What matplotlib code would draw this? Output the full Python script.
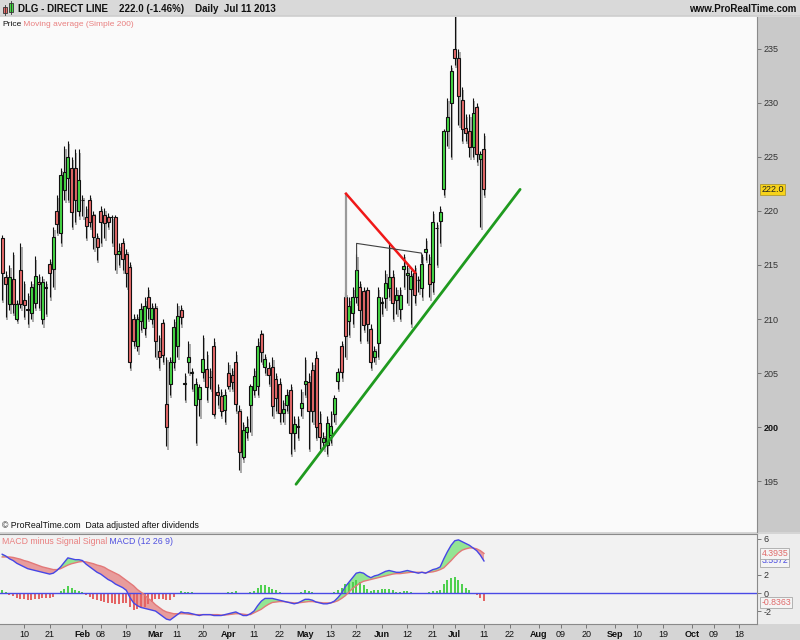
import numpy as np
import pandas as pd
import matplotlib
matplotlib.use('Agg')
import matplotlib.pyplot as plt
from matplotlib.patches import Rectangle
import matplotlib.transforms as mtrans

plt.rcParams['font.family'] = ['Liberation Sans', 'DejaVu Sans']

# ---------------- data ----------------
start_date = '2013-01-02'
end_date = '2013-10-31'
uk_holidays = ['2013-03-29', '2013-04-01', '2013-05-06', '2013-05-27', '2013-08-26']

opens = [217.5, 213.9, 211.4, 213.7, 210.0, 214.5, 211.8, 210.9, 210.6, 211.5,
         213.4, 210.0, 212.9, 215.1, 214.6, 220.0, 218.0, 221.9, 223.1, 224.0,
         224.0, 220.0, 221.0, 219.4, 221.0, 219.6, 217.5, 220.0, 219.6, 219.4,
         219.4, 219.4, 216.0, 217.0, 216.0, 214.8, 210.0, 207.5, 209.8, 209.2,
         212.0, 210.0, 211.0, 207.0, 209.6, 202.1, 204.0, 206.0, 207.5, 210.8,
         204.0, 206.0, 205.0, 202.0, 202.6, 205.1, 205.4, 204.6, 207.5, 203.2,
         202.9, 201.6, 205.0, 204.8, 206.0, 201.5, 197.2, 199.5, 202.0, 203.4,
         203.8, 208.6, 205.6, 205.5, 205.6, 204.4, 204.0, 201.3, 202.0, 203.4,
         199.4, 200.0, 201.8, 204.0, 204.2, 205.3, 206.4, 200.4, 198.6, 198.3,
         199.3, 201.2, 204.3, 207.5, 212.0, 209.8, 210.6, 212.0, 213.0, 212.6,
         212.7, 209.1, 206.5, 207.8, 211.5, 211.9, 212.9, 213.9, 211.8, 210.9,
         214.6, 214.1, 212.8, 214.3, 213.6, 212.9, 216.2, 215.1, 213.4, 218.4,
         219.1, 222.0, 227.4, 230.0, 235.0, 234.2, 230.3, 227.7, 227.4, 225.9,
         229.6, 224.8, 225.7]
highs = [217.8, 214.4, 215.0, 216.2, 211.8, 217.0, 213.5, 212.4, 213.5, 215.8,
         214.2, 214.0, 213.5, 215.6, 218.5, 221.5, 224.0, 226.0, 226.5, 225.0,
         225.7, 225.7, 221.5, 220.5, 221.5, 220.0, 218.0, 220.5, 220.3, 219.8,
         219.6, 219.6, 217.0, 217.5, 216.5, 215.3, 210.5, 210.5, 211.5, 212.0,
         213.0, 211.5, 211.5, 208.5, 210.0, 206.5, 206.5, 210.0, 211.5, 211.3,
         205.0, 208.0, 205.5, 204.5, 204.0, 208.5, 207.0, 205.5, 208.2, 204.0,
         203.5, 203.5, 206.0, 205.5, 207.0, 202.0, 200.5, 201.0, 204.0, 205.5,
         208.2, 209.0, 206.8, 206.0, 206.5, 205.0, 204.5, 202.5, 203.5, 204.0,
         201.0, 201.0, 203.5, 206.5, 205.0, 206.0, 207.0, 201.5, 199.5, 201.0,
         201.5, 203.0, 205.5, 208.0, 212.5, 212.0, 213.0, 216.0, 213.5, 213.0,
         213.0, 209.5, 207.5, 213.0, 212.0, 214.5, 217.0, 214.5, 213.0, 213.0,
         216.0, 215.0, 214.5, 215.0, 214.0, 216.0, 217.5, 216.0, 220.0, 219.0,
         220.5, 227.6, 230.5, 233.5, 238.5, 235.0, 231.5, 229.0, 229.0, 230.5,
         230.0, 225.6, 227.2]
lows = [211.8, 210.2, 210.8, 210.6, 209.8, 211.0, 210.2, 209.5, 210.0, 211.0,
        211.0, 209.5, 210.5, 212.0, 213.0, 218.0, 217.0, 221.0, 221.0, 218.5,
        219.0, 219.5, 219.5, 217.5, 218.5, 216.5, 215.5, 217.0, 217.5, 218.5,
        217.0, 214.5, 215.0, 214.5, 213.0, 205.5, 207.5, 207.0, 209.0, 208.5,
        210.0, 209.5, 206.5, 205.5, 206.0, 198.2, 203.0, 205.5, 206.5, 209.5,
        202.5, 205.0, 203.5, 198.5, 201.0, 204.5, 202.5, 203.5, 201.0, 202.0,
        201.0, 200.5, 203.5, 203.5, 201.5, 196.0, 197.0, 199.0, 199.5, 203.0,
        203.0, 206.0, 205.0, 204.0, 201.0, 201.5, 200.5, 200.5, 201.5, 197.5,
        198.0, 199.0, 201.0, 203.0, 198.0, 200.5, 199.0, 198.0, 198.0, 197.5,
        198.5, 200.5, 203.5, 204.5, 206.5, 208.5, 209.5, 211.5, 208.0, 209.0,
        208.0, 205.5, 206.0, 206.5, 210.5, 211.0, 212.0, 210.0, 210.5, 210.0,
        213.0, 211.5, 209.5, 211.5, 212.5, 212.0, 215.5, 212.0, 212.5, 215.0,
        217.0, 221.5, 226.0, 225.0, 233.5, 228.0, 226.5, 226.5, 225.0, 225.0,
        224.5, 218.5, 221.5]
closes = [214.3, 213.2, 213.9, 211.4, 211.4, 211.4, 211.3, 210.8, 213.0, 214.0,
          213.2, 213.4, 212.9, 214.3, 217.6, 218.8, 223.3, 223.6, 225.0, 219.9,
          221.0, 222.9, 221.0, 218.6, 219.0, 217.6, 216.7, 219.0, 218.9, 219.0,
          219.4, 216.0, 216.3, 215.6, 214.3, 206.0, 208.0, 210.0, 210.9, 211.2,
          211.0, 211.0, 208.0, 206.5, 206.7, 200.0, 206.0, 209.3, 210.3, 210.2,
          204.0, 206.5, 205.0, 204.0, 203.7, 206.3, 203.7, 204.6, 201.2, 203.0,
          201.5, 203.0, 203.8, 204.2, 202.1, 197.7, 199.7, 200.0, 203.8, 204.7,
          207.5, 206.9, 206.3, 204.8, 201.9, 202.7, 201.3, 201.7, 203.0, 199.4,
          200.3, 200.0, 202.2, 204.3, 201.5, 201.5, 200.0, 199.1, 199.0, 200.4,
          200.1, 202.7, 205.1, 205.1, 208.4, 211.2, 212.0, 214.5, 210.8, 209.4,
          209.5, 206.0, 207.0, 212.0, 211.5, 213.3, 213.9, 211.5, 212.2, 212.2,
          214.9, 214.3, 214.0, 212.2, 213.6, 215.1, 216.5, 213.2, 219.0, 218.4,
          219.9, 227.4, 228.7, 233.0, 234.2, 230.6, 227.6, 227.2, 225.9, 229.1,
          225.3, 225.3, 222.0]

macd_line = [4.3, 4.1, 3.8, 3.6, 3.3, 3.1, 2.9, 2.7, 2.6, 2.5,
             2.4, 2.3, 2.2, 2.1, 2.2, 2.5, 2.9, 3.4, 3.9, 3.8,
             3.7, 3.7, 3.6, 3.2, 2.9, 2.6, 2.3, 2.1, 1.8, 1.5,
             1.3, 1.0, 0.8, 0.6, 0.3, -0.5, -1.1, -1.4, -1.6, -1.7,
             -1.8, -1.9, -2.0, -2.3, -2.6, -2.9, -3.0, -2.7, -2.4, -2.1,
             -2.2, -2.2, -2.3, -2.4, -2.5, -2.4, -2.4, -2.4, -2.5, -2.5,
             -2.5, -2.4, -2.3, -2.2, -2.1, -2.3, -2.5, -2.5, -2.3, -2.0,
             -1.4, -0.9, -0.6, -0.6, -0.6, -0.7, -0.8, -0.9, -1.0, -1.1,
             -1.2, -1.1, -0.9, -0.7, -0.7, -0.8, -1.0, -1.1, -1.2, -1.2,
             -1.1, -0.9, -0.5, 0.0, 0.7, 1.2, 1.7, 2.2, 2.3, 2.2,
             1.9, 1.7, 1.9, 2.0, 2.2, 2.4, 2.5, 2.4, 2.3, 2.3,
             2.4, 2.5, 2.4, 2.3, 2.2, 2.3, 2.2, 2.4, 2.6, 2.7,
             2.9, 3.8, 4.6, 5.3, 5.8, 5.9, 5.7, 5.5, 5.3, 5.0,
             4.7, 4.2, 3.5572]
signal_line = [4.0, 4.0, 4.0, 3.95, 3.85, 3.75, 3.6, 3.5, 3.35, 3.2,
               3.05, 2.9, 2.8, 2.7, 2.6, 2.6, 2.7, 2.9, 3.1, 3.25,
               3.35, 3.45, 3.5, 3.45, 3.35, 3.25, 3.1, 3.0, 2.85, 2.6,
               2.4, 2.2, 2.0, 1.7, 1.4, 1.1, 0.8, 0.4, 0.1, -0.2,
               -0.6, -0.9, -1.3, -1.6, -1.9, -2.1, -2.2, -2.3, -2.3, -2.3,
               -2.3, -2.35, -2.4, -2.4, -2.4, -2.4, -2.4, -2.4, -2.4, -2.4,
               -2.45, -2.45, -2.4, -2.35, -2.3, -2.3, -2.35, -2.4, -2.4, -2.2,
               -2.0, -1.8, -1.5, -1.25, -1.05, -1.0, -0.95, -0.95, -1.0, -1.05,
               -1.1, -1.1, -1.05, -1.0, -0.95, -0.95, -1.0, -1.05, -1.1, -1.1,
               -1.1, -1.0, -0.85, -0.6, -0.3, 0.1, 0.5, 0.8, 1.1, 1.3,
               1.4, 1.5, 1.6, 1.7, 1.8, 1.9, 2.0, 2.1, 2.15, 2.15,
               2.2, 2.25, 2.3, 2.3, 2.3, 2.3, 2.25, 2.3, 2.35, 2.45,
               2.6, 2.8, 3.2, 3.6, 4.05, 4.45, 4.75, 4.9, 5.0, 5.0,
               4.9, 4.7, 4.3935]

tick_dates = ['2013-01-10', '2013-01-21', '2013-02-01', '2013-02-08', '2013-02-19',
              '2013-03-01', '2013-03-11', '2013-03-20', '2013-04-02', '2013-04-11',
              '2013-04-22', '2013-05-01', '2013-05-13', '2013-05-22', '2013-06-03',
              '2013-06-12', '2013-06-21', '2013-07-01', '2013-07-11', '2013-07-22',
              '2013-08-01', '2013-08-09', '2013-08-20', '2013-09-02', '2013-09-10',
              '2013-09-19', '2013-10-01', '2013-10-09', '2013-10-18']
tick_labels = ['10', '21', 'Feb', '08', '19', 'Mar', '11', '20', 'Apr', '11',
               '22', 'May', '13', '22', 'Jun', '12', '21', 'Jul', '11', '22',
               'Aug', '09', '20', 'Sep', '10', '19', 'Oct', '09', '18']
month_names = ['Feb', 'Mar', 'Apr', 'May', 'Jun', 'Jul', 'Aug', 'Sep', 'Oct']

price_ticks = [195, 200, 205, 210, 215, 220, 225, 230, 235]
macd_ticks = [6, 2, 0, -2]

last_price = 222.0
last_change_pct = -1.46
macd_last = 3.5572
signal_last = 4.3935
hist_last = -0.8363

# hand-drawn annotation lines (bar index, price)
trend_idx = [80.5, 141.9]
trend_price = [194.7, 222.0]
red_idx = [94.2, 113.1]
red_price = [221.6, 214.3]
gray_idx = [94.2, 94.2]
gray_price = [221.6, 212.0]
black_idx = [97.1, 97.1, 114.9, 114.9]
black_price = [214.5, 217.0, 216.1, 215.2]

# ---------------- figure ----------------
W, H = 800, 640
fig = plt.figure(figsize=(8, 6.4), dpi=100, facecolor='#d5d5d5')


def frect(x0, y0, x1, y1, color, z=-1, ec='none', lw=0):
    fig.add_artist(Rectangle((x0 / W, 1 - y1 / H), (x1 - x0) / W, (y1 - y0) / H,
                             transform=fig.transFigure, facecolor=color,
                             edgecolor=ec, lw=lw, zorder=z))


PX_R = 757
frect(PX_R, 17, 800, 532, '#c9c9c9')
frect(PX_R, 534, 800, 624, '#ededed')

# calendar
cal = pd.bdate_range(start_date, end_date)
cal = cal[~cal.isin(pd.to_datetime(uk_holidays))]
pos = {d: i for i, d in enumerate(cal)}
x_left, x_right = -0.6, 206.8

o = np.array(opens); h = np.array(highs); l = np.array(lows); c = np.array(closes)
x = np.arange(len(o))

# ----- header -----
axh = fig.add_axes([0, 1 - 16 / H, 1, 16 / H])
axh.set_xlim(0, W); axh.set_ylim(16, 0)
axh.set_facecolor('#d9d9d9')
axh.set_xticks([]); axh.set_yticks([])
for s in axh.spines.values():
    s.set_visible(False)
axh.axhline(15.5, color='#a8a8a8', lw=1)
axh.add_patch(Rectangle((3, 7), 4, 6, fc='#e86a6a', ec='#333', lw=0.6))
axh.plot([5, 5], [5, 15], color='#333', lw=0.6)
axh.add_patch(Rectangle((9, 3), 4, 9, fc='#45d945', ec='#333', lw=0.6))
axh.plot([11, 11], [1, 14], color='#333', lw=0.6)
axh.text(18, 8.5, f'DLG - DIRECT LINE    {last_price:.1f} ({last_change_pct:.2f}%)    Daily  Jul 11 2013',
         fontsize=7, fontweight='bold', va='center', ha='left', color='#111')
axh.text(796, 8.5, 'www.ProRealTime.com', fontsize=7, fontweight='bold',
         va='center', ha='right', color='#111')

# ----- price panel -----
ax = fig.add_axes([0, 1 - 532 / H, PX_R / W, (532 - 17) / H])
ax.set_facecolor('#fafafa')
ax.set_xlim(x_left, x_right)
ax.set_ylim(190.28, 237.96)

up = c >= o
GREEN, RED = '#45d945', '#e86a6a'
cols = np.where(up, GREEN, RED)
ax.vlines(x + 0.35, l - 0.3, h - 0.3, color='#a4a4a4', lw=1.3, zorder=1)
ax.vlines(x, l, h, color='#111111', lw=0.8, zorder=2)
bottoms = np.minimum(o, c)
heights = np.maximum(np.abs(c - o), 0.05)
ax.bar(x, heights, 0.82, bottom=bottoms, color=cols, edgecolor='#111111',
       lw=0.8, zorder=3)

ax.plot(trend_idx, trend_price, color='#1f9a1f', lw=2, zorder=4, solid_capstyle='round')
ax.plot(gray_idx, gray_price, color='#9a9a9a', lw=1.6, zorder=4)
ax.plot(red_idx, red_price, color='#f01818', lw=1.8, zorder=4)
ax.plot(black_idx, black_price, color='#404040', lw=0.8, zorder=4)

ax.set_xticks([])
ax.yaxis.tick_right()
ax.set_yticks(price_ticks)
ax.set_yticklabels([str(t) for t in price_ticks])
ax.tick_params(axis='y', direction='out', length=3, width=0.6, color='#666',
               pad=1.5, labelsize=6.5, labelcolor='#333')
for lab in ax.get_yticklabels():
    if lab.get_text() == '200':
        lab.set_fontweight('bold'); lab.set_color('#111')
for s in ['top', 'left', 'bottom']:
    ax.spines[s].set_visible(False)
ax.spines['right'].set_color('#8a8a8a')

ax.text(1.006, last_price, f'{last_price:.1f}', transform=mtrans.blended_transform_factory(ax.transAxes, ax.transData),
        fontsize=6.5, va='center', ha='left', color='#222', clip_on=False,
        bbox=dict(boxstyle='square,pad=0.15', fc='#f7d31a', ec='#b09a30', lw=0.6), zorder=6)

t1 = ax.text(2 / PX_R, 1 - 4 / 515, 'Price', transform=ax.transAxes, fontsize=6,
             va='top', ha='left', color='#111')
ax.annotate(' Moving average (Simple 200)', xy=(1, 0), xycoords=t1, fontsize=6,
            va='bottom', ha='left', color='#e98080')
ax.text(2 / PX_R, 2 / 515, '\u00a9 ProRealTime.com  Data adjusted after dividends',
        transform=ax.transAxes, fontsize=6.3, va='bottom', ha='left', color='#111')

# ----- MACD panel -----
mac = np.array(macd_line); sig = np.array(signal_line)
hist = mac - sig
axm = fig.add_axes([0, 1 - 624 / H, PX_R / W, (624 - 534) / H])
axm.set_facecolor('#f2f2f2')
axm.set_xlim(x_left, x_right)
axm.set_ylim(-3.44, 6.55)
axm.fill_between(x, mac, sig, where=mac >= sig, interpolate=True, color='#93e593', lw=0, zorder=1)
axm.fill_between(x, mac, sig, where=mac < sig, interpolate=True, color='#e89c9c', lw=0, zorder=1)
axm.bar(x, hist, 0.55, color=np.where(hist >= 0, '#4fd04f', '#e46464'), lw=0, zorder=2)
axm.axhline(0, color='#4a4ae6', lw=1, zorder=3)
axm.plot(x, sig, color='#e37878', lw=1, zorder=4)
axm.plot(x, mac, color='#4646e6', lw=1, zorder=5)

axm.yaxis.tick_right()
axm.set_yticks(macd_ticks)
axm.set_yticklabels([str(t) for t in macd_ticks])
axm.tick_params(axis='y', direction='out', length=3, width=0.6, color='#666',
                pad=1.5, labelsize=6.5, labelcolor='#333')
tick_pos = [pos[pd.Timestamp(d)] for d in tick_dates]
axm.set_xticks(tick_pos)
axm.set_xticklabels(tick_labels)
axm.tick_params(axis='x', direction='out', length=3, width=0.6, color='#666',
                pad=1.5, labelsize=6.5, labelcolor='#111')
for lab in axm.get_xticklabels():
    if lab.get_text() in month_names:
        lab.set_fontweight('bold')
for s in axm.spines.values():
    s.set_color('#8a8a8a')
axm.spines['left'].set_visible(False)

btr = mtrans.blended_transform_factory(axm.transAxes, axm.transData)
for k, (val, col, dy) in enumerate([(macd_last, '#4848e0', 0.0),
                                    (signal_last, '#e06a6a', 0.0),
                                    (hist_last, '#e06a6a', -0.25)]):
    axm.text(1.006, val + dy, f'{val:.4f}', transform=btr, fontsize=6.3, va='center',
             ha='left', color=col, clip_on=False, zorder=6 + k,
             bbox=dict(boxstyle='square,pad=0.12', fc='#f4f4f4', ec='#a8a8a8', lw=0.6))

t2 = axm.text(2 / PX_R, 1 - 3 / 90, 'MACD minus Signal Signal', transform=axm.transAxes,
              fontsize=6.3, va='top', ha='left', color='#e98080')
axm.annotate(' MACD (12 26 9)', xy=(1, 0), xycoords=t2, fontsize=6.3,
             va='bottom', ha='left', color='#5050e0')

fig.savefig('out.png', dpi=100, facecolor=fig.get_facecolor())
